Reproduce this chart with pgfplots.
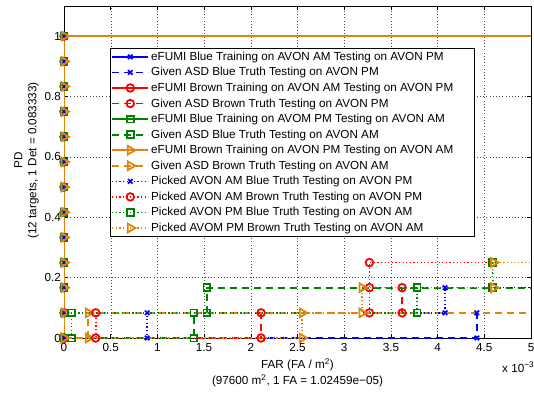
\documentclass[border=0pt]{standalone}
\usepackage{pgfplots}
\pgfplotsset{compat=1.18}
\usepackage{fontspec}
\setmainfont{Liberation Sans}
\definecolor{mblue}{rgb}{0,0,1}
\definecolor{mred}{rgb}{1,0,0}
\definecolor{mgreen}{rgb}{0,0.5,0}
\definecolor{morange}{rgb}{0.87,0.52,0.05}
\newcommand{\chartfont}{\fontsize{11.7bp}{14bp}\selectfont}
\begin{document}
\begin{tikzpicture}
\begin{axis}[
  scale only axis, width=467bp, height=332bp,
  xmin=0, xmax=5, ymin=0, ymax=1.1,
  axis line style={line width=0.9bp},
  tick align=inside, major tick length=4.5bp,
  every tick/.style={black, line width=0.6bp},
  xtick={0,0.5,1,1.5,2,2.5,3,3.5,4,4.5,5},
  ytick={0,0.2,0.4,0.6,0.8,1},
  /pgf/number format/assume math mode=true,
  tick label style={font=\chartfont},
  xticklabel style={inner sep=0pt, yshift=-5bp},
  yticklabel style={inner sep=0pt, xshift=-3bp},
  grid=major,
  major grid style={black!70, line width=0.4bp, dash pattern=on 0.6bp off 2.6bp},
  xlabel={FAR (FA / m\textsuperscript{2})\\(97600 m\textsuperscript{2}, 1 FA = 1.02459e−05)},
  xlabel style={font=\fontsize{11.7bp}{16bp}\selectfont, align=center, inner sep=0pt, at={(axis description cs:0.5,0)}, anchor=north, yshift=-20.5bp},
  ylabel={PD\\(12 targets, 1 Det = 0.083333)},
  ylabel style={font=\fontsize{11.7bp}{14bp}\selectfont, align=center, inner sep=0pt, at={(axis description cs:-0.0535,0.535)}, anchor=south},
  legend cell align=left,
  legend style={font=\fontsize{11.7bp}{14bp}\selectfont, at={(axis description cs:0.0985,0.8735)}, anchor=north west,
    draw=black, line width=0.8bp, fill=white, inner xsep=1bp, inner ysep=1.5bp,
    row sep=1.6bp},
  legend image code/.code={\draw[mark repeat=2,mark phase=2,#1] plot coordinates {(0bp,0bp) (18bp,0bp) (36bp,0bp)};},
  every axis plot post/.append style={/pgfplots/legend image code/.code={\draw[mark repeat=2,mark phase=2,##1] plot coordinates {(0bp,0bp) (18bp,0bp) (36bp,0bp)};}},
  sl/.style={solid, line width=1.8bp},
  dl/.style={line width=1.8bp, dash pattern=on 7bp off 5bp},
  ol/.style={line width=1.5bp, dash pattern=on 1.2bp off 2.4bp},
  bm/.style={mark=x, mark size=3.2bp, mark options={solid, line width=1.7bp}},
  rm/.style={mark=o, mark size=3.8bp, mark options={solid, line width=1.8bp}},
  gm/.style={mark=square, mark size=3.4bp, mark options={solid, line width=1.8bp}},
  om/.style={mark=triangle, mark size=5bp, mark options={solid, rotate=-90, line width=1.8bp}},
]
% 1 eFUMI Blue AM->PM
\addplot[mblue, sl, bm] coordinates {(0,0)(0,0.083333)(0,0.166667)(0,0.25)(0,0.333333)(0,0.416667)(0,0.5)(0,0.583333)(0,0.666667)(0,0.75)(0,0.833333)(0,0.916667)(0,1)(6,1)};
\addlegendentry{eFUMI Blue Training on AVON AM Testing on AVON PM}
% 2 Given ASD Blue PM
\addplot[mblue, dl, bm] coordinates {(0,0)(4.42,0)(4.42,0.083333)(6,0.083333)};
\addlegendentry{Given ASD Blue Truth Testing on AVON PM}
% 3 eFUMI Brown AM->PM
\addplot[mred, sl, rm] coordinates {(0,0)(0,0.083333)(0,0.166667)(0,0.25)(0,0.333333)(0,0.416667)(0,0.5)(0,0.583333)(0,0.666667)(0,0.75)(0,0.833333)(0,0.916667)(0,1)(6,1)};
\addlegendentry{eFUMI Brown Training on AVON AM Testing on AVON PM\hspace*{18bp}}
% 4 Given ASD Brown PM
\addplot[mred, dl, rm] coordinates {(0,0)(2.11,0)(2.11,0.083333)(3.62,0.083333)(3.62,0.166667)(6,0.166667)};
\addlegendentry{Given ASD Brown Truth Testing on AVON PM}
% 5 eFUMI Blue PM->AM
\addplot[mgreen, sl, gm] coordinates {(0,0)(0,0.083333)(0,0.166667)(0,0.25)(0,0.333333)(0,0.416667)(0,0.5)(0,0.583333)(0,0.666667)(0,0.75)(0,0.833333)(0,0.916667)(0,1)(6,1)};
\addlegendentry{eFUMI Blue Training on AVOM PM Testing on AVON AM}
% 6 Given ASD Blue AM
\addplot[mgreen, dl, gm] coordinates {(0,0)(1.39,0)(1.39,0.083333)(1.53,0.083333)(1.53,0.166667)(6,0.166667)};
\addlegendentry{Given ASD Blue Truth Testing on AVON AM}
% 7 eFUMI Brown PM->AM
\addplot[morange, sl, om] coordinates {(0,0)(0,0.083333)(0,0.166667)(0,0.25)(0,0.333333)(0,0.416667)(0,0.5)(0,0.583333)(0,0.666667)(0,0.75)(0,0.833333)(0,0.916667)(0,1)(6,1)};
\addlegendentry{eFUMI Brown Training on AVON PM Testing on AVON AM}
% 8 Given ASD Brown AM
\addplot[morange, dl, om] coordinates {(0,0)(0.26,0)(0.26,0.083333)(6,0.083333)};
\addlegendentry{Given ASD Brown Truth Testing on AVON AM}
% 9 Picked AM Blue
\addplot[mblue, ol, bm] coordinates {(0,0)(0.89,0)(0.89,0.083333)(4.08,0.083333)(4.08,0.166667)(6,0.166667)};
\addlegendentry{Picked AVON AM Blue Truth Testing on AVON PM}
% 10 Picked AM Brown
\addplot[mred, ol, rm] coordinates {(0,0)(0.34,0)(0.34,0.083333)(3.27,0.083333)(3.27,0.166667)(3.27,0.25)(6,0.25)};
\addlegendentry{Picked AVON AM Brown Truth Testing on AVON PM}
% 11 Picked PM Blue
\addplot[mgreen, ol, gm] coordinates {(0,0)(0.08,0)(0.08,0.083333)(3.78,0.083333)(3.78,0.166667)(4.59,0.166667)(4.59,0.25)(6,0.25)};
\addlegendentry{Picked AVON PM Blue Truth Testing on AVON AM}
% 12 Picked PM Brown
\addplot[morange, ol, om] coordinates {(0,0)(2.55,0)(2.55,0.083333)(3.19,0.083333)(3.19,0.166667)(4.6,0.166667)(4.6,0.25)(6,0.25)};
\addlegendentry{Picked AVOM PM Brown Truth Testing on AVON AM}
\coordinate (SW) at (rel axis cs:0,0);
\coordinate (SE) at (rel axis cs:1,0);
\coordinate (NE) at (rel axis cs:1,1);
\end{axis}
\node[anchor=base west, inner sep=0pt, font=\chartfont] at ([shift={(-29bp,-34bp)}]SE) {x 10\textsuperscript{−3}};
\pgfresetboundingbox
\path ([shift={(-64bp,-56bp)}]SW) rectangle ([shift={(3bp,6bp)}]NE);
\end{tikzpicture}
\end{document}
